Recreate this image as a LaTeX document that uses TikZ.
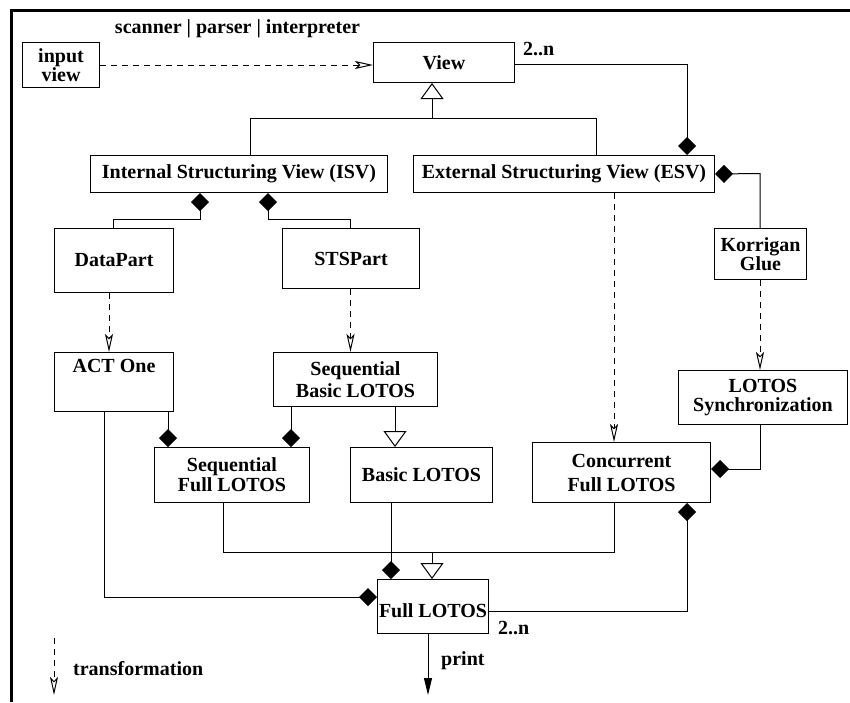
\documentclass[tikz,border=0pt]{standalone}
\usepackage{fontspec}
\setmainfont{Liberation Serif}
\usetikzlibrary{arrows.meta}
\begin{document}
\begin{tikzpicture}[x=1pt,y=-1pt,
  box/.style={draw, line width=1pt, inner sep=0pt, anchor=north west, font=\fontsize{20}{21}\selectfont\bfseries},
  lbl/.style={inner sep=0pt, font=\fontsize{20}{21}\selectfont\bfseries},
  ln/.style={line width=1pt},
  agg/.style={ln, {Diamond[length=18pt,width=18pt]}-},
  gen/.style={ln, -{Triangle[open,length=16pt,width=23pt]}},
  trans/.style={ln, dash pattern=on 6pt off 5pt, -{Stealth[open,length=18pt,width=8pt,inset=4pt]}},
]
\useasboundingbox (0,0) rectangle (850,702);
\draw[line width=3pt] (850,10.5) -- (11.5,10.5) -- (11.5,702);

% boxes
\node[box, align=center, minimum width=77pt, minimum height=45pt, font=\fontsize{20}{17.5}\selectfont\bfseries] (input) at (22,42) {input\\view};
\node[box, minimum width=141pt, minimum height=40pt] (view) at (373,42) {View};
\node[box, minimum width=297pt, minimum height=37pt] (isv) at (90,155) {Internal Structuring View (ISV)};
\node[box, minimum width=301pt, minimum height=37pt] (esv) at (413,155) {External Structuring View (ESV)};
\node[box, minimum width=119pt, minimum height=64pt] (datapart) at (54,228) {DataPart};
\node[box, minimum width=137pt, minimum height=60pt] (stspart) at (282,228) {STSPart};
\node[box, align=center, minimum width=92pt, minimum height=51pt, font=\fontsize{20}{18}\selectfont\bfseries] (korrigan) at (714,228) {Korrigan\\Glue};
\node[box, minimum width=119pt, text height=20pt, text depth=39pt] (act) at (54,352) {ACT One};
\node[box, align=center, minimum width=164pt, minimum height=54pt, font=\fontsize{20}{22.7}\selectfont\bfseries] (seqbasic) at (273,352) {Sequential\\Basic LOTOS};
\node[box, align=center, minimum width=169pt, minimum height=54pt, font=\fontsize{20}{19.5}\selectfont\bfseries] (lsync) at (678,370) {LOTOS\\Synchronization};
\node[box, align=center, minimum width=155pt, minimum height=55pt, font=\fontsize{20}{20}\selectfont\bfseries] (seqfull) at (154,447) {Sequential\\Full LOTOS};
\node[box, minimum width=142pt, minimum height=55pt] (basic) at (350,447) {Basic LOTOS};
\node[box, align=center, minimum width=178pt, minimum height=60pt, font=\fontsize{20}{24}\selectfont\bfseries] (conc) at (532,442) {Concurrent\\Full LOTOS};
\node[box, minimum width=111pt, text height=38pt, text depth=16pt] (full) at (377,579) {Full LOTOS};

% labels
\node[lbl, anchor=base] (spi) at (237.5,33) {scanner | parser | interpreter};
\node[lbl, anchor=base west] (m1) at (523,55) {2..n};
\node[lbl, anchor=base west] (m2) at (498,634) {2..n};
\node[lbl, anchor=base west] (printl) at (441,665) {print};
\node[lbl, anchor=base west] (tl) at (73,675) {transformation};

% input -> view
\draw[trans] (input.east) -- (input.east -| view.west);

% generalization to View
\coordinate (gv) at (432,118);
\coordinate (gl) at (250,118);
\coordinate (gr) at (596,118);
\draw[gen] (gv) -- (gv |- view.south);
\draw[ln] (isv.north -| gl) -- (gl) -- (gr) -- (esv.north -| gr);

% View - ESV aggregation
\coordinate (va) at (687,64);
\draw[agg] (esv.north -| va) -- (va) -- (va -| view.east);

% ESV - Korrigan
\coordinate (ek) at (760,173.5);
\draw[agg] (esv.east) -- (ek) -- (ek |- korrigan.north);

% ISV - DataPart, STSPart
\coordinate (i1) at (200,219);
\coordinate (i2) at (268,219);
\coordinate (i1b) at (113.5,219);
\coordinate (i2b) at (350.5,219);
\draw[agg] (i1 |- isv.south) -- (i1) -- (i1b) -- (i1b |- datapart.north);
\draw[agg] (i2 |- isv.south) -- (i2) -- (i2b) -- (i2b |- stspart.north);

% transformations
\coordinate (t1) at (109,300);
\coordinate (t2) at (350.5,300);
\coordinate (t3) at (760,300);
\coordinate (t4) at (614,300);
\draw[trans] (t1 |- datapart.south) -- (t1 |- act.north);
\draw[trans] (t2 |- stspart.south) -- (t2 |- seqbasic.north);
\draw[trans] (t3 |- korrigan.south) -- (t3 |- lsync.north);
\draw[trans] (t4 |- esv.south) -- (t4 |- conc.north);

% ACT One, Sequential Basic -> Sequential Full / Basic
\coordinate (a1) at (168,430);
\coordinate (a2) at (291,430);
\coordinate (a3) at (395,430);
\draw[agg] (a1 |- seqfull.north) -- (a1 |- act.south);
\draw[agg] (a2 |- seqfull.north) -- (a2 |- seqbasic.south);
\draw[gen] (a3 |- seqbasic.south) -- (a3 |- basic.north);

% LOTOS Synchronization -> Concurrent
\coordinate (ls) at (760,469);
\draw[agg] (conc.east |- ls) -- (ls) -- (ls |- lsync.south);

% Concurrent -> Full LOTOS
\coordinate (cf) at (687,611);
\draw[agg] (cf |- conc.south) -- (cf) -- (cf -| full.east);

% generalization to Full LOTOS
\coordinate (g2) at (432,552);
\coordinate (g2l) at (223,552);
\coordinate (g2r) at (614,552);
\draw[ln] (g2l |- seqfull.south) -- (g2l) -- (g2r) -- (g2r |- conc.south);
\draw[gen] (g2) -- (g2 |- full.north);

% Basic -> Full
\coordinate (b1) at (391,540);
\draw[agg] (b1 |- full.north) -- (b1 |- basic.south);

% ACT One -> Full
\coordinate (af) at (104,597);
\draw[agg] (af -| full.west) -- (af) -- (af |- act.south);

% print
\coordinate (pr) at (428,695);
\draw[ln, -{Triangle[length=17pt,width=8pt]}] (pr |- full.south) -- (pr);

% legend
\coordinate (l1) at (54,638);
\coordinate (l2) at (54,695);
\draw[trans] (l1) -- (l2);
\end{tikzpicture}
\end{document}
